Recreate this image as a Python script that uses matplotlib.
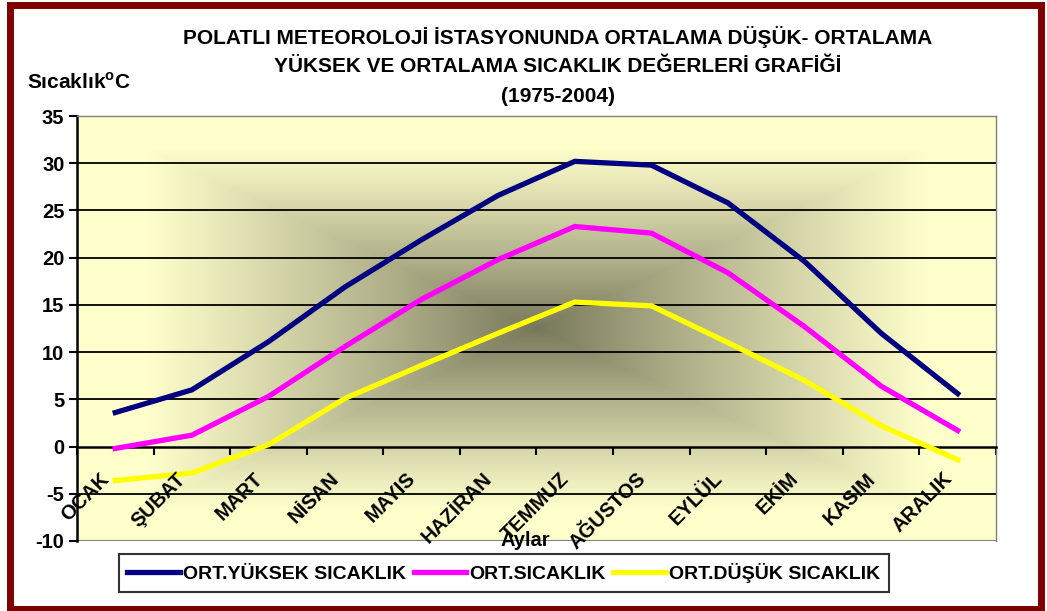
import numpy as np
import matplotlib
matplotlib.use("Agg")
import matplotlib.pyplot as plt
from matplotlib.patches import Rectangle

plt.rcParams['font.family'] = ['Liberation Sans', 'DejaVu Sans']
plt.rcParams['font.weight'] = 'bold'
plt.rcParams['axes.unicode_minus'] = False
plt.rcParams['mathtext.fontset'] = 'custom'
plt.rcParams['mathtext.rm'] = 'Liberation Sans:bold'
plt.rcParams['mathtext.bf'] = 'Liberation Sans:bold'

# veriler
aylar = ['OCAK', 'ŞUBAT', 'MART', 'NİSAN', 'MAYIS', 'HAZİRAN',
         'TEMMUZ', 'AĞUSTOS', 'EYLÜL', 'EKİM', 'KASIM', 'ARALIK']
ort_yuksek = [3.6, 6.0, 11.1, 16.9, 21.9, 26.6, 30.2, 29.8, 25.8, 19.6, 12.0, 5.6]
ort_sicaklik = [-0.2, 1.2, 5.3, 10.6, 15.6, 19.8, 23.3, 22.6, 18.4, 12.7, 6.4, 1.7]
ort_dusuk = [-3.6, -2.8, 0.2, 5.1, 8.6, 12.0, 15.3, 14.9, 11.0, 7.0, 2.2, -1.4]
seri_adlari = ['ORT.YÜKSEK SICAKLIK', 'ORT.SICAKLIK', 'ORT.DÜŞÜK SICAKLIK']
seri_renkleri = ['#000080', '#FF00FF', '#FFFF00']

fig = plt.figure(figsize=(10.47, 6.11), dpi=100)
ax = fig.add_axes([0.0735, 0.1146, 0.8778, 0.6955])

# merkezden kenara gradyan arka plan
gx, gy = np.meshgrid(np.linspace(-1, 1, 400), np.linspace(-1, 1, 300))
t = np.minimum(1.0, np.maximum(np.abs(gx), np.abs(gy)) / 0.85) ** 0.9
merkez = np.array([118, 118, 90]) / 255
kenar = np.array([255, 255, 204]) / 255
img = merkez + (kenar - merkez) * t[..., None]
ax.imshow(img, extent=[0, 1, 0, 1], transform=ax.transAxes, aspect='auto',
          zorder=0, interpolation='bilinear')

x = np.arange(len(aylar))
for veri, ad, renk in zip([ort_yuksek, ort_sicaklik, ort_dusuk], seri_adlari, seri_renkleri):
    ax.plot(x, veri, color=renk, lw=3.8, label=ad, zorder=3, solid_joinstyle='miter')

ax.set_xlim(-0.5, len(aylar) - 0.5)
ax.set_ylim(-10, 35)
ax.set_yticks(np.arange(-10, 36, 5))
ax.tick_params(axis='y', labelsize=14.5, length=6, width=1.5, pad=3)
for v in range(-5, 35, 5):
    if v != 0:
        ax.axhline(v, color='black', lw=1.3, zorder=1)

# kategori ekseni y=0 noktasından geçer
ax.spines['bottom'].set_position(('data', 0))
ax.spines['bottom'].set_linewidth(1.8)
ax.spines['left'].set_linewidth(1.8)
for s in ['top', 'right']:
    ax.spines[s].set_color('#808080')
    ax.spines[s].set_linewidth(1.0)
ax.axhline(-10, color='#808080', lw=1.5, zorder=2)

ax.set_xticks(np.arange(-0.5, len(aylar), 1.0))
ax.set_xticklabels([])
ax.tick_params(axis='x', which='major', direction='out', length=6, width=1.5)

# ay etiketleri: 45 derece, sağ alt köşe kategori merkezinin biraz sol altında
for i, ay in enumerate(aylar):
    ax.annotate(ay, xy=(x[i], 0), xytext=(-2, -36), textcoords='offset pixels',
                rotation=45, rotation_mode='anchor', ha='right', va='bottom',
                fontsize=14.5, fontweight='bold', annotation_clip=False, zorder=4)

fig.text(0.502, 0.116, 'Aylar', ha='center', va='center', fontsize=14.5, fontweight='bold')
fig.text(0.026, 0.866, 'Sıcaklık$^\\mathrm{o}$C', ha='left', va='center',
         fontsize=15, fontweight='bold')

baslik = ['POLATLI METEOROLOJİ İSTASYONUNDA ORTALAMA DÜŞÜK- ORTALAMA',
          'YÜKSEK VE ORTALAMA SICAKLIK DEĞERLERİ GRAFİĞİ',
          '(1975-2004)']
for i, satir in enumerate(baslik):
    fig.text(0.533, 1 - (37 + 30 * i) / 611, satir, ha='center', va='center',
             fontsize=15, fontweight='bold')

leg = fig.legend(loc='center', bbox_to_anchor=(0.481, 0.062), ncol=3, fontsize=14,
                 frameon=True, fancybox=False, edgecolor='black', handlelength=2.7,
                 handletextpad=0.15, columnspacing=0.4, borderpad=0.45)
leg.get_frame().set_linewidth(1.5)
for h in leg.get_lines():
    h.set_linewidth(3.8)

fig.patches.append(Rectangle((0.010, 0.0033), 0.984, 0.9893, transform=fig.transFigure,
                             fill=False, edgecolor='#800000', lw=5, zorder=10))

fig.savefig('out.png', dpi=100)
